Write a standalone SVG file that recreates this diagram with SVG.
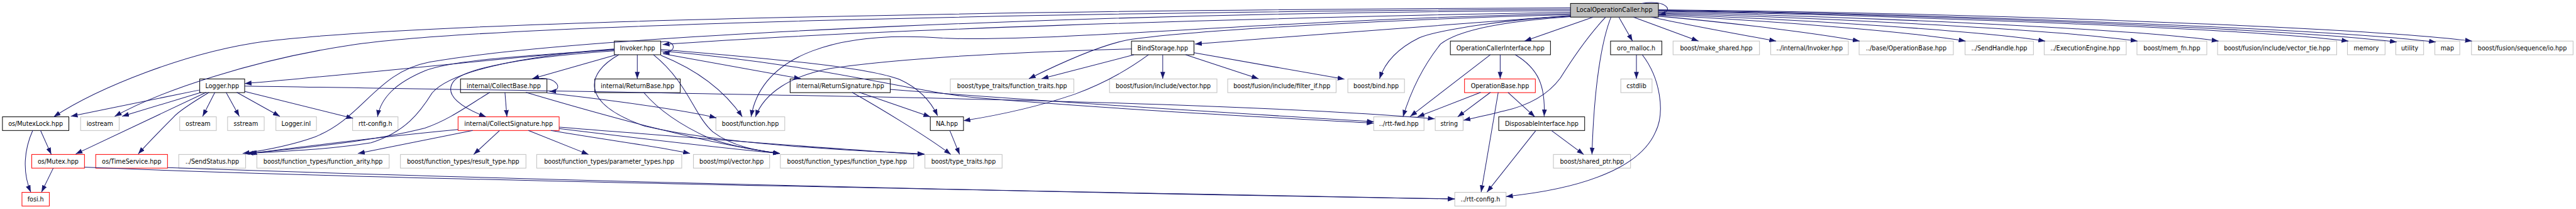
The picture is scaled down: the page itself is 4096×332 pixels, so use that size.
<svg xmlns="http://www.w3.org/2000/svg" width="4096" height="332" viewBox="0 0 4096 332">
<style>
.n rect{fill:#fff;stroke-width:1.3}
.k rect{stroke:#000}
.g rect{stroke:#c0c0c0}
.r rect{stroke:#ff0000}
.m rect{fill:#bfbfbf;stroke:#000}
text{font-family:"DejaVu Sans","Liberation Sans",sans-serif;font-size:12.4px;text-anchor:middle;fill:#000}
#edges path{fill:none;stroke:#191970;stroke-width:1.3;marker-end:url(#ah)}
</style>
<defs>
<marker id="ah" viewBox="0 0 14 10" refX="14" refY="5" markerWidth="14" markerHeight="10" markerUnits="userSpaceOnUse" orient="auto"><path d="M0,0 L14,5 L0,10 z" fill="#191970"/></marker>
</defs>
<rect width="4096" height="332" fill="#fff"/>
<g transform="scale(0.77649)">
<g id="nodes">
<g id="LOC" class="n m"><rect x="3216" y="7" width="180" height="28"/><text x="3306" y="25">LocalOperationCaller.hpp</text></g>
<g id="Invoker" class="n k"><rect x="1258" y="84" width="95" height="28"/><text x="1305.5" y="102.5">Invoker.hpp</text></g>
<g id="BindStorage" class="n k"><rect x="2317" y="84" width="128" height="28"/><text x="2381" y="102.5">BindStorage.hpp</text></g>
<g id="OCI" class="n k"><rect x="2970" y="84" width="205" height="28"/><text x="3072.5" y="102.5">OperationCallerInterface.hpp</text></g>
<g id="oro_malloc" class="n k"><rect x="3298" y="84" width="105" height="28"/><text x="3350.5" y="102.5">oro_malloc.h</text></g>
<g id="make_shared" class="n g"><rect x="3426" y="84" width="177" height="28"/><text x="3514.5" y="102.5">boost/make_shared.hpp</text></g>
<g id="intInvoker" class="n g"><rect x="3626" y="84" width="159" height="28"/><text x="3705.5" y="102.5">../internal/Invoker.hpp</text></g>
<g id="baseOpBase" class="n g"><rect x="3807" y="84" width="193" height="28"/><text x="3903.5" y="102.5">../base/OperationBase.hpp</text></g>
<g id="SendHandle" class="n g"><rect x="4024" y="84" width="140" height="28"/><text x="4094" y="102.5">../SendHandle.hpp</text></g>
<g id="ExecEngine" class="n g"><rect x="4186" y="84" width="168" height="28"/><text x="4270" y="102.5">../ExecutionEngine.hpp</text></g>
<g id="mem_fn" class="n g"><rect x="4376" y="84" width="143" height="28"/><text x="4447.5" y="102.5">boost/mem_fn.hpp</text></g>
<g id="vector_tie" class="n g"><rect x="4541" y="84" width="244" height="28"/><text x="4663" y="102.5">boost/fusion/include/vector_tie.hpp</text></g>
<g id="memory" class="n g"><rect x="4807" y="84" width="77" height="28"/><text x="4845.5" y="102.5">memory</text></g>
<g id="utility" class="n g"><rect x="4906" y="84" width="57" height="28"/><text x="4934.5" y="102.5">utility</text></g>
<g id="map" class="n g"><rect x="4986" y="84" width="51" height="28"/><text x="5011.5" y="102.5">map</text></g>
<g id="seq_io" class="n g"><rect x="5061" y="84" width="208" height="28"/><text x="5165" y="102.5">boost/fusion/sequence/io.hpp</text></g>

<g id="Logger" class="n k"><rect x="409" y="161.5" width="92" height="28"/><text x="455" y="180">Logger.hpp</text></g>
<g id="CollectBase" class="n k"><rect x="943" y="161.5" width="177" height="28"/><text x="1031.5" y="180">internal/CollectBase.hpp</text></g>
<g id="ReturnBase" class="n k"><rect x="1218" y="161.5" width="175" height="28"/><text x="1305.5" y="180">internal/ReturnBase.hpp</text></g>
<g id="ReturnSignature" class="n k"><rect x="1618" y="161.5" width="205" height="28"/><text x="1720.5" y="180">internal/ReturnSignature.hpp</text></g>
<g id="fn_traits" class="n g"><rect x="1946" y="161.5" width="253" height="28"/><text x="2072.5" y="180">boost/type_traits/function_traits.hpp</text></g>
<g id="fusion_vector" class="n g"><rect x="2272" y="161.5" width="220" height="28"/><text x="2382" y="180">boost/fusion/include/vector.hpp</text></g>
<g id="filter_if" class="n g"><rect x="2514" y="161.5" width="222" height="28"/><text x="2625" y="180">boost/fusion/include/filter_if.hpp</text></g>
<g id="bind" class="n g"><rect x="2760" y="161.5" width="116" height="28"/><text x="2818" y="180">boost/bind.hpp</text></g>
<g id="OperationBase" class="n r"><rect x="2999" y="161.5" width="145" height="28"/><text x="3071.5" y="180">OperationBase.hpp</text></g>
<g id="cstdlib" class="n g"><rect x="3319" y="161.5" width="64" height="28"/><text x="3351" y="180">cstdlib</text></g>

<g id="MutexLock" class="n k"><rect x="5" y="239" width="136" height="28"/><text x="73" y="257.5">os/MutexLock.hpp</text></g>
<g id="iostream" class="n g"><rect x="165" y="239" width="79" height="28"/><text x="204.5" y="257.5">iostream</text></g>
<g id="ostream" class="n g"><rect x="368" y="239" width="75" height="28"/><text x="405.5" y="257.5">ostream</text></g>
<g id="sstream" class="n g"><rect x="466" y="239" width="75" height="28"/><text x="503.5" y="257.5">sstream</text></g>
<g id="Logger_inl" class="n g"><rect x="565" y="239" width="83" height="28"/><text x="606.5" y="257.5">Logger.inl</text></g>
<g id="rtt_config" class="n g"><rect x="722" y="239" width="93" height="28"/><text x="768.5" y="257.5">rtt-config.h</text></g>
<g id="CollectSignature" class="n r"><rect x="938" y="239" width="207" height="28"/><text x="1041.5" y="257.5">internal/CollectSignature.hpp</text></g>
<g id="function_hpp" class="n g"><rect x="1466" y="239" width="141" height="28"/><text x="1536.5" y="257.5">boost/function.hpp</text></g>
<g id="NA" class="n k"><rect x="1905" y="239" width="68" height="28"/><text x="1939" y="257.5">NA.hpp</text></g>
<g id="rtt_fwd" class="n g"><rect x="2813" y="239" width="103" height="28"/><text x="2864.5" y="257.5">../rtt-fwd.hpp</text></g>
<g id="string" class="n g"><rect x="2939" y="239" width="57" height="28"/><text x="2967.5" y="257.5">string</text></g>
<g id="Disposable" class="n k"><rect x="3069" y="239" width="176" height="28"/><text x="3157" y="257.5">DisposableInterface.hpp</text></g>

<g id="Mutex" class="n r"><rect x="65" y="316" width="108" height="28"/><text x="119" y="334.5">os/Mutex.hpp</text></g>
<g id="TimeService" class="n r"><rect x="196" y="316" width="147" height="28"/><text x="269.5" y="334.5">os/TimeService.hpp</text></g>
<g id="SendStatus" class="n g"><rect x="366" y="316" width="137" height="28"/><text x="434.5" y="334.5">../SendStatus.hpp</text></g>
<g id="fn_arity" class="n g"><rect x="526" y="316" width="271" height="28"/><text x="661.5" y="334.5">boost/function_types/function_arity.hpp</text></g>
<g id="result_type" class="n g"><rect x="820" y="316" width="257" height="28"/><text x="948.5" y="334.5">boost/function_types/result_type.hpp</text></g>
<g id="param_types" class="n g"><rect x="1099" y="316" width="297" height="28"/><text x="1247.5" y="334.5">boost/function_types/parameter_types.hpp</text></g>
<g id="mpl_vector" class="n g"><rect x="1420" y="316" width="156" height="28"/><text x="1498" y="334.5">boost/mpl/vector.hpp</text></g>
<g id="function_type" class="n g"><rect x="1598" y="316" width="273" height="28"/><text x="1734.5" y="334.5">boost/function_types/function_type.hpp</text></g>
<g id="type_traits" class="n g"><rect x="1894" y="316" width="158" height="28"/><text x="1973" y="334.5">boost/type_traits.hpp</text></g>
<g id="shared_ptr" class="n g"><rect x="3181" y="316" width="158" height="28"/><text x="3260" y="334.5">boost/shared_ptr.hpp</text></g>

<g id="fosi" class="n r"><rect x="45" y="393.5" width="56" height="28"/><text x="73" y="412">fosi.h</text></g>
<g id="rtt_config2" class="n g"><rect x="2979" y="393.5" width="105" height="28"/><text x="3031.5" y="412">../rtt-config.h</text></g>
</g>

<g id="edges">
<path d="M3362,7 C3412,-2 3432,24 3397,30"/>
<path d="M3262,35 L3122,84"/>
<path d="M3315,35 L3343,84"/>
<path d="M3345,35 L3478,84"/>
<path d="M3382,35 C3450,50 3560,70 3637,84"/>
<path d="M3396,33 C3560,48 3720,68 3808,84"/>
<path d="M3396,31 C3650,44 3920,66 4025,84"/>
<path d="M3396,29 C3700,40 4060,64 4188,84"/>
<path d="M3396,27 C3760,37 4220,62 4377,84"/>
<path d="M3396,25 C3820,34 4380,60 4543,84"/>
<path d="M3396,23 C3860,31 4600,58 4809,84"/>
<path d="M3396,22 C3900,29 4680,58 4908,86"/>
<path d="M3396,21 C3950,28 4760,58 4988,86"/>
<path d="M3396,20 C4000,26 4820,54 5062,84"/>
<path d="M3216,16 C2200,20 900,40 540,85 C380,107 200,180 110,239"/>
<path d="M3216,19 C2200,24 1000,50 720,92 C520,122 330,185 235,238"/>
<path d="M3216,22 C2300,25 1200,70 880,127 C770,148 745,240 645,280 C595,298 545,307 497,314"/>
<path d="M3216,25 C2500,38 1750,62 1357,91"/>
<path d="M3216,28 C2600,40 2150,88 1930,78 C1720,62 1560,110 1538,239"/>
<path d="M3216,30 C2900,38 2450,60 2307,82 C2260,92 2200,115 2107,161"/>
<path d="M3216,32 C3000,48 2700,70 2447,90"/>
<path d="M3216,33 C3100,38 2950,60 2907,77 C2860,100 2835,130 2825,161"/>
<path d="M3216,34 C3040,46 2975,70 2950,90 C2910,140 2888,190 2873,239"/>
<path d="M3288,35 C3250,75 3220,120 3195,160 C3165,200 3120,218 3080,227 C3050,234 3025,240 2997,246"/>
<path d="M3299,35 C3285,70 3265,150 3260,316"/>

<path d="M1353,86 C1385,80 1388,108 1357,108"/>
<path d="M1305,112 L1305,161"/>
<path d="M1262,112 L1090,161"/>
<path d="M1258,104 C1100,115 960,135 930,165 C905,195 950,222 995,239"/>
<path d="M1258,101 C1050,115 920,150 885,190 C860,230 830,270 760,292 C680,305 580,310 505,314"/>
<path d="M1258,100 C1100,112 800,145 501,171"/>
<path d="M1258,102 C1050,115 920,125 870,145 C810,170 780,200 773,239"/>
<path d="M1353,113 C1420,140 1480,180 1520,239"/>
<path d="M1338,112 C1410,170 1420,235 1460,270 C1500,300 1550,308 1597,314"/>
<path d="M1267,112 C1200,150 1185,210 1320,258 C1500,300 1800,310 1893,315"/>
<path d="M1358,110 L1640,161"/>
<path d="M1353,101 C1550,118 1770,135 1843,163 C1880,180 1905,205 1920,237"/>
<path d="M1353,104 C1700,135 1850,185 2000,200 C2300,225 2600,240 2813,252"/>

<path d="M1318,189 C1340,215 1380,250 1453,283 C1500,300 1550,308 1597,314"/>

<path d="M1100,161 C1140,155 1158,186 1125,187"/>
<path d="M1034,189 L1038,239"/>
<path d="M1003,189 C960,215 920,245 870,262 C760,290 600,305 509,314"/>
<path d="M1120,190 C1250,205 1400,225 1467,241"/>
<path d="M1077,189 C1250,240 1450,295 1597,314"/>

<path d="M1023,267 L970,316"/>
<path d="M1082,267 L1205,316"/>
<path d="M968,267 L733,314"/>
<path d="M938,265 C800,278 620,300 512,314"/>
<path d="M1128,267 C1250,288 1350,300 1413,314"/>
<path d="M1145,263 C1300,282 1450,300 1597,314"/>
<path d="M1145,260 C1400,280 1700,305 1893,316"/>

<path d="M409,184 L145,238"/>
<path d="M412,189 L250,238"/>
<path d="M440,189 L415,238"/>
<path d="M463,189 L490,238"/>
<path d="M485,189 L573,238"/>
<path d="M501,187 L723,242"/>
<path d="M422,189 L155,315"/>
<path d="M428,189 C390,212 365,228 355,240 C330,265 305,290 283,315"/>
<path d="M501,176 C1500,192 2500,205 2938,243"/>

<path d="M83,267 L105,316"/>
<path d="M67,267 C50,305 45,350 63,393"/>
<path d="M109,344 L85,393"/>
<path d="M173,342 C700,365 1800,385 2979,407"/>
<path d="M343,343 C900,362 1900,390 2979,407"/>

<path d="M1945,267 L1965,316"/>

<path d="M1760,189 L1905,239"/>
<path d="M1745,189 C1800,220 1900,280 1947,316"/>
<path d="M1823,183 C2100,205 2500,230 2813,249"/>

<path d="M2381,112 L2381,161"/>
<path d="M2428,112 L2577,161"/>
<path d="M2445,108 L2753,162"/>
<path d="M2317,100 C2000,108 1800,125 1700,140 C1620,155 1565,190 1547,239"/>
<path d="M2322,112 L2133,161"/>
<path d="M2352,112 C2300,150 2250,175 2200,193 C2120,220 2050,235 1973,247"/>

<path d="M3052,112 L2888,238"/>
<path d="M3072,112 L3072,161"/>
<path d="M3103,112 C3150,140 3165,175 3162,238"/>

<path d="M3032,189 L2903,239"/>
<path d="M3052,189 L2985,239"/>
<path d="M3068,189 L3033,393"/>
<path d="M3088,189 L3143,239"/>

<path d="M3145,267 L3045,393"/>
<path d="M3177,267 L3243,316"/>

<path d="M3351,112 L3351,161"/>
<path d="M3363,112 C3400,160 3410,230 3390,270 C3360,340 3250,385 3084,402"/>
</g>
</g>
</svg>
